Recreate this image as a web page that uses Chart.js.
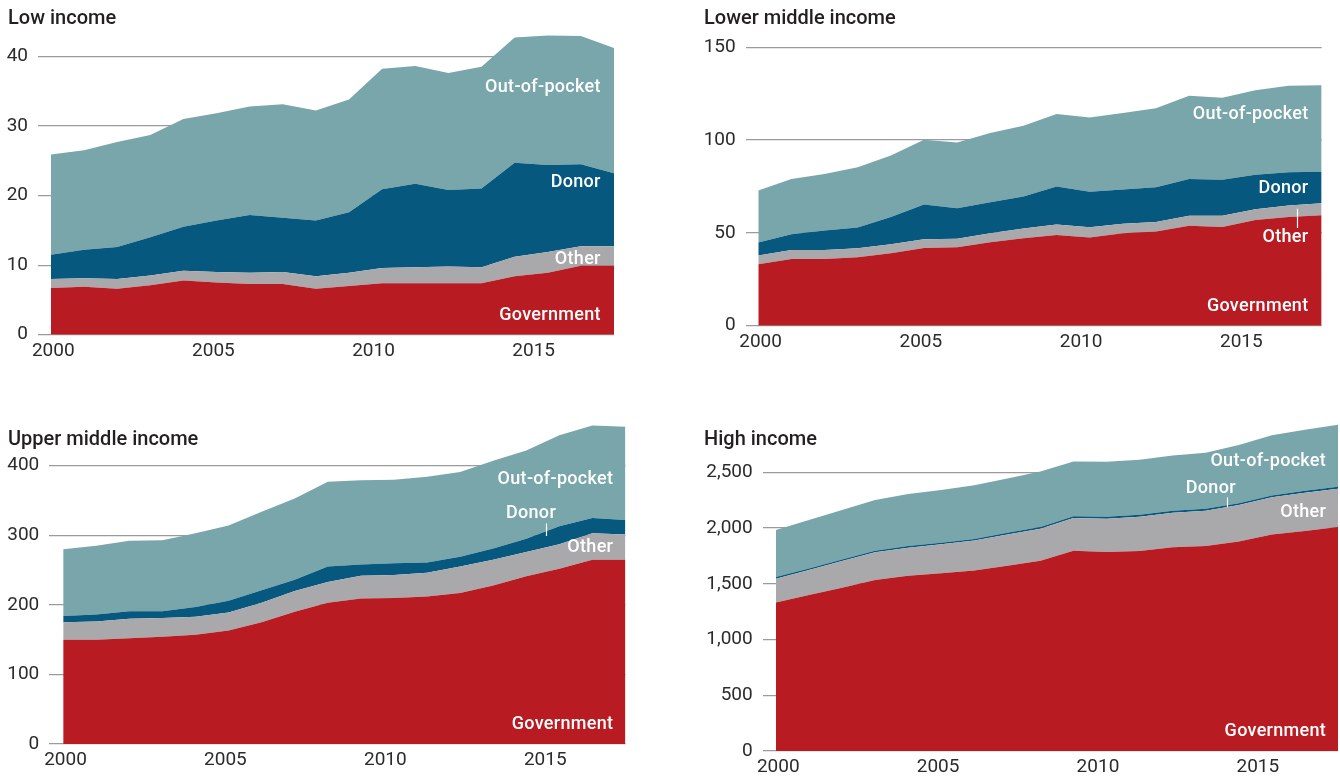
<!DOCTYPE html>
<html>
<head>
<meta charset="utf-8">
<script src="https://cdn.jsdelivr.net/npm/chart.js@4.4.1/dist/chart.umd.min.js"></script>
<style>
	body { margin: 0; background: #fff; width: 1340px; height: 777px; position: relative; overflow: hidden; }
	canvas { position: absolute; }
	.title { position: absolute; font: 500 20px Roboto, sans-serif; color: #231f20; line-height: 24px; z-index: 2; }
</style>
</head>
<body>
<canvas id="lowIncome" width="640" height="390" style="left:0;top:0"></canvas>
<canvas id="lowerMiddle" width="650" height="390" style="left:690px;top:0"></canvas>
<canvas id="upperMiddle" width="640" height="377" style="left:0;top:400px"></canvas>
<canvas id="highIncome" width="650" height="377" style="left:690px;top:400px"></canvas>
<div class="title" style="left:8px;top:5px">Low income</div>
<div class="title" style="left:704px;top:5px">Lower middle income</div>
<div class="title" style="left:8px;top:426px">Upper middle income</div>
<div class="title" style="left:704px;top:426px">High income</div>
<script>
const years = [2000, 2001, 2002, 2003, 2004, 2005, 2006, 2007, 2008, 2009, 2010, 2011, 2012, 2013, 2014, 2015, 2016, 2017];
const xTickYears = [2000, 2005, 2010, 2015];

// US$ billions by financing source
const lowGovernment = [6.7, 6.9, 6.6, 7.1, 7.8, 7.5, 7.3, 7.3, 6.6, 7.0, 7.4, 7.4, 7.4, 7.4, 8.4, 8.9, 9.9, 9.9];
const lowOther = [1.3, 1.2, 1.4, 1.4, 1.4, 1.5, 1.6, 1.7, 1.8, 1.9, 2.2, 2.3, 2.4, 2.3, 2.8, 3.0, 2.8, 2.8];
const lowDonor = [3.5, 4.1, 4.6, 5.5, 6.3, 7.4, 8.3, 7.8, 8.0, 8.7, 11.3, 12.0, 11.0, 11.3, 13.5, 12.5, 11.8, 10.5];
const lowOutOfPocket = [14.4, 14.3, 15.1, 14.7, 15.5, 15.4, 15.6, 16.3, 15.8, 16.2, 17.3, 16.9, 16.8, 17.5, 18.0, 18.6, 18.4, 18.0];
const lowTicks = [0, 10, 20, 30, 40];

const lmGovernment = [33.1, 36.0, 36.0, 36.9, 39.0, 41.9, 42.3, 45.0, 47.1, 48.9, 47.5, 49.8, 50.7, 53.8, 53.2, 57.0, 58.6, 59.5];
const lmOther = [4.7, 4.8, 4.8, 4.8, 4.9, 4.7, 4.6, 4.8, 5.2, 5.6, 5.6, 5.1, 5.2, 5.4, 6.0, 5.8, 6.1, 6.5];
const lmDonor = [7.0, 8.5, 10.5, 11.2, 14.6, 18.7, 16.4, 16.7, 17.3, 20.5, 19.0, 18.5, 18.7, 19.8, 19.4, 18.5, 18.0, 16.9];
const lmOutOfPocket = [28.0, 29.7, 30.4, 32.5, 33.2, 34.9, 35.4, 37.3, 38.1, 39.0, 40.1, 41.2, 42.5, 44.9, 44.2, 45.5, 46.6, 46.6];
const lmTicks = [0, 50, 100, 150];

const umGovernment = [150, 150, 152, 154, 157, 163, 175, 190, 203, 209, 210, 212, 217, 228, 241, 252, 265, 265];
const umOther = [25, 26, 28, 27, 26, 26, 28, 30, 30, 33, 33, 34, 38, 37, 35, 35, 38, 36];
const umDonor = [9, 10, 11, 10, 14, 17, 18, 16, 22, 16, 17, 15, 14, 16, 19, 26, 22, 21];
const umOutOfPocket = [96, 99, 101, 102, 106, 108, 113, 117, 122, 121, 120, 123, 122, 126, 127, 131, 133, 134];
const umTicks = [0, 100, 200, 300, 400];

const highGovernment = [1331, 1399, 1465, 1534, 1573, 1594, 1618, 1662, 1707, 1797, 1785, 1794, 1827, 1839, 1878, 1941, 1973, 2009];
const highOther = [215, 225, 239, 248, 251, 260, 269, 281, 287, 293, 299, 308, 311, 317, 329, 334, 344, 344];
const highDonor = [14, 14, 14, 15, 15, 15, 15, 15, 15, 16, 16, 16, 16, 16, 16, 17, 17, 17];
const highOutOfPocket = [422, 434, 444, 455, 467, 473, 482, 486, 498, 491, 494, 494, 497, 503, 521, 540, 548, 557];
const highTicks = [0, 500, 1000, 1500, 2000, 2500];

const colors = {
	government: '#b81c22',
	other: '#a9a9ab',
	donor: '#07587f',
	outOfPocket: '#78a6ab',
};

Chart.defaults.font.family = 'Roboto';

// the printed year labels drift a little left of the yearly points
function labelSpot(year) {
	return 2000.07 + (year - 2000) * 0.967;
}

const areaLabels = {
	id: 'areaLabels',
	afterDatasetsDraw(chart, args, opts) {
		const { ctx } = chart;
		const x = chart.scales.x;
		const y = chart.scales.y;
		ctx.save();
		ctx.fillStyle = '#fff';
		ctx.strokeStyle = '#fff';
		ctx.lineWidth = 1.2;
		ctx.font = '500 18px Roboto';
		ctx.letterSpacing = '0.3px';
		ctx.textAlign = 'right';
		ctx.textBaseline = 'middle';
		opts.items.forEach(item => {
			ctx.fillText(item.text, x.getPixelForValue(item.year), y.getPixelForValue(item.value));
		});
		(opts.leaders || []).forEach(l => {
			const px = Math.round(x.getPixelForValue(l.year)) + 0.5;
			ctx.beginPath();
			ctx.moveTo(px, y.getPixelForValue(l.from));
			ctx.lineTo(px, y.getPixelForValue(l.to));
			ctx.stroke();
		});
		ctx.restore();
	},
};

function xy(values) {
	return values.map((v, i) => ({ x: years[i], y: v }));
}

function drawPanel(id, series, ticks, box, labels) {
	const config = {
		type: 'line',
		data: {
			datasets: [
				{ label: 'Government', data: xy(series[0]), backgroundColor: colors.government, fill: 'origin' },
				{ label: 'Other', data: xy(series[1]), backgroundColor: colors.other, fill: '-1' },
				{ label: 'Donor', data: xy(series[2]), backgroundColor: colors.donor, fill: '-1' },
				{ label: 'Out-of-pocket', data: xy(series[3]), backgroundColor: colors.outOfPocket, fill: '-1' },
			].map(d => Object.assign(d, { borderWidth: 0, pointRadius: 0, tension: 0 })),
		},
		options: {
			responsive: false,
			animation: false,
			layout: {
				padding: { left: 0, top: box.top, right: box.right, bottom: 0 },
			},
			plugins: {
				legend: { display: false },
				tooltip: { enabled: false },
				areaLabels: labels,
			},
			scales: {
				x: {
					type: 'linear',
					min: box.xMin,
					max: 2017,
					grid: { display: false },
					border: { display: false },
					afterBuildTicks: axis => {
						axis.ticks = xTickYears.map(y => ({ value: labelSpot(y) }));
					},
					afterFit: scale => {
						scale.height = box.xHeight;
					},
					ticks: {
						color: '#2b2b2b',
						font: { size: 19 },
						padding: -3,
						maxRotation: 0,
						autoSkip: false,
						callback: v => String(Math.round(v)),
					},
				},
				y: {
					stacked: true,
					min: 0,
					max: box.yMax,
					grid: { color: '#9b9b9b', lineWidth: 1.2, drawTicks: false },
					border: { display: false },
					afterBuildTicks: axis => {
						axis.ticks = ticks.map(v => ({ value: v }));
					},
					afterFit: scale => {
						scale.width = box.yWidth;
					},
					ticks: {
						color: '#2b2b2b',
						font: { size: 19 },
						padding: 10,
						callback: v => v.toLocaleString('en-US'),
					},
				},
			},
		},
		plugins: [areaLabels],
	};
	new Chart(document.getElementById(id), config);
}

drawPanel('lowIncome', [lowGovernment, lowOther, lowDonor, lowOutOfPocket], lowTicks,
	{ top: 21.5, right: 26, yWidth: 38, xHeight: 55.3, xMin: 1999.61, yMax: 45 },
	{
		items: [
			{ text: 'Out-of-pocket', year: 2016.6, value: 35.5 },
			{ text: 'Donor', year: 2016.6, value: 21.9 },
			{ text: 'Other', year: 2016.6, value: 10.8 },
			{ text: 'Government', year: 2016.6, value: 2.7 },
		],
	});

drawPanel('lowerMiddle', [lmGovernment, lmOther, lmDonor, lmOutOfPocket], lmTicks,
	{ top: 28.7, right: 18.3, yWidth: 55.7, xHeight: 64.3, xMin: 1999.62, yMax: 160 },
	{
		items: [
			{ text: 'Out-of-pocket', year: 2016.6, value: 113.8 },
			{ text: 'Donor', year: 2016.6, value: 74.0 },
			{ text: 'Other', year: 2016.6, value: 47.5 },
			{ text: 'Government', year: 2016.6, value: 10.3 },
		],
		leaders: [{ year: 2016.26, from: 63.0, to: 52.6 }],
	});

drawPanel('upperMiddle', [umGovernment, umOther, umDonor, umOutOfPocket], umTicks,
	{ top: 24, right: 14.5, yWidth: 49.3, xHeight: 33, xMin: 1999.58, yMax: 460 },
	{
		items: [
			{ text: 'Out-of-pocket', year: 2016.63, value: 380 },
			{ text: 'Donor', year: 2014.9, value: 332 },
			{ text: 'Other', year: 2016.63, value: 283 },
			{ text: 'Government', year: 2016.63, value: 28 },
		],
		leaders: [{ year: 2014.59, from: 317, to: 299 }],
	});

drawPanel('highIncome', [highGovernment, highOther, highDonor, highOutOfPocket], highTicks,
	{ top: 24, right: 2, yWidth: 72.7, xHeight: 26, xMin: 1999.6, yMax: 2933 },
	{
		items: [
			{ text: 'Out-of-pocket', year: 2016.64, value: 2600 },
			{ text: 'Donor', year: 2013.91, value: 2350 },
			{ text: 'Other', year: 2016.64, value: 2135 },
			{ text: 'Government', year: 2016.64, value: 175 },
		],
		leaders: [{ year: 2013.63, from: 2275, to: 2186 }],
	});
</script>
</body>
</html>
